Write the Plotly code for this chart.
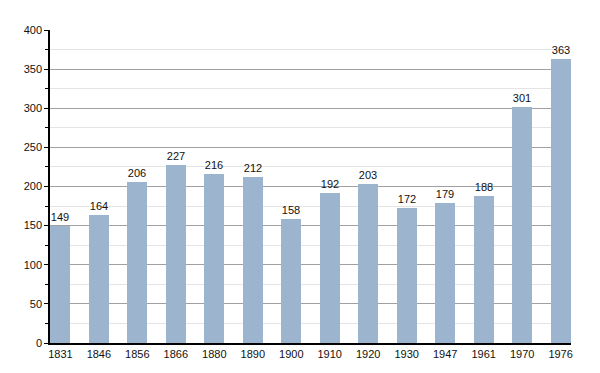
import plotly.graph_objects as go

years = ["1831", "1846", "1856", "1866", "1880", "1890", "1900", "1910",
         "1920", "1930", "1947", "1961", "1970", "1976"]
population = [149, 164, 206, 227, 216, 212, 158, 192, 203, 172, 179, 188, 301, 363]
y_ticks = [0, 50, 100, 150, 200, 250, 300, 350, 400]

xpos = list(range(len(years)))

fig = go.Figure()
fig.add_trace(go.Bar(
    x=xpos, y=population,
    width=0.52,
    marker=dict(color="#9cb4ce", line=dict(width=0)),
    text=[str(v) for v in population],
    textposition="outside",
    textfont=dict(family="Liberation Sans, Arial, sans-serif", size=11, color="#111"),
    cliponaxis=False,
))

# The page body adds an 8px offset, so the figure is sized to compensate.
fig.update_layout(
    width=584, height=364,
    margin=dict(l=42, r=21, t=22, b=22),
    paper_bgcolor="white", plot_bgcolor="white",
    showlegend=False,
    bargap=0,
    font=dict(family="Liberation Sans, Arial, sans-serif", size=11, color="#111"),
    xaxis=dict(
        range=[-0.27, 13.27],
        tickmode="array", tickvals=xpos, ticktext=years,
        showgrid=False, zeroline=False,
        showline=True, linecolor="black", linewidth=1.5,
        ticks="", ticklen=0,
        tickfont=dict(size=11),
    ),
    yaxis=dict(
        range=[0, 400],
        tickmode="array", tickvals=y_ticks,
        showgrid=True, gridcolor="#a0a0a0", gridwidth=1,
        zeroline=False,
        showline=True, linecolor="black", linewidth=1.5,
        ticks="outside", ticklen=4, tickcolor="black",
        tickfont=dict(size=11),
        minor=dict(dtick=25, showgrid=True, gridcolor="#e4e4e4",
                   ticks="outside", ticklen=3, tickcolor="black"),
        layer="below traces",
    ),
)

fig.write_html("out.html")
